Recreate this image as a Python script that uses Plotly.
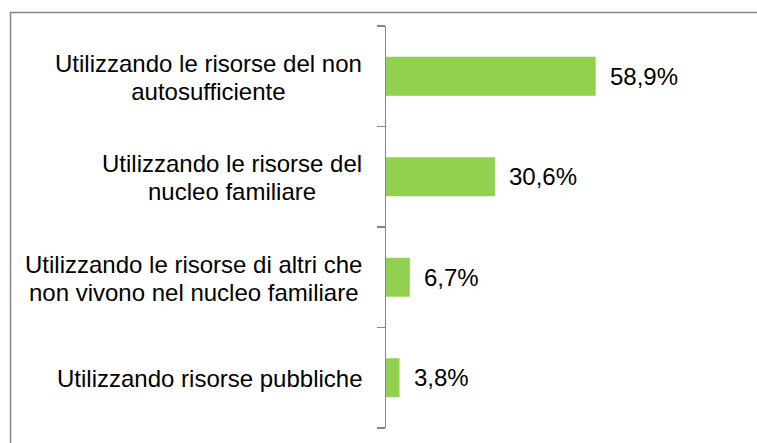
import plotly.graph_objects as go

categories = [
    ["Utilizzando le risorse del non", "autosufficiente"],
    ["Utilizzando le risorse del", "nucleo familiare"],
    ["Utilizzando le risorse di altri che", "non vivono nel nucleo familiare"],
    ["Utilizzando risorse pubbliche"],
]
values = [58.9, 30.6, 6.7, 3.8]
value_labels = [f"{v:.1f}".replace(".", ",") + "%" for v in values]

W, H = 757, 443
L, R, T, B = 386, 15, 26, 15
PW, PH = W - L - R, H - T - B

FONT = "Liberation Sans, Arial, sans-serif"
GRAY = "#868686"
GREEN = "#92D050"
FS = 24
LINE_FS = 21.8  # sets line pitch (1.3 x) to match the reference

fig = go.Figure(
    go.Bar(
        x=values,
        y=list(range(len(categories))),
        orientation="h",
        marker=dict(color=GREEN, line=dict(width=0)),
        hoverinfo="skip",
    )
)

annotations = []
for i, (lines, lab, v) in enumerate(zip(categories, value_labels, values)):
    txt = "<br>".join(f'<span style="font-size:{FS}px">{ln}</span>' for ln in lines)
    annotations.append(dict(
        x=0, xref="paper", xshift=-22, y=i, yref="y", yshift=-1,
        text=txt, showarrow=False, xanchor="right", yanchor="middle",
        align="center", font=dict(family=FONT, size=LINE_FS, color="#000000"),
    ))
    annotations.append(dict(
        x=v, xref="x", y=i, yref="y", xshift=12,
        text=lab, showarrow=False, xanchor="left", yanchor="middle",
        font=dict(family=FONT, size=FS, color="#000000"),
    ))

def px_x(p):
    return (p - L) / PW

def px_y(p):
    return (H - B - p) / PH

fig.add_shape(
    type="rect", xref="paper", yref="paper",
    x0=px_x(10.5), x1=px_x(W + 20), y0=px_y(H + 20), y1=px_y(12.5),
    line=dict(color=GRAY, width=1.5), fillcolor="rgba(0,0,0,0)", layer="below",
)

fig.update_layout(
    width=W, height=H,
    margin=dict(l=L, r=R, t=T, b=B, pad=0),
    paper_bgcolor="white", plot_bgcolor="white",
    showlegend=False,
    bargap=0.612,
    annotations=annotations,
    xaxis=dict(range=[0, 100], visible=False, fixedrange=True),
    yaxis=dict(
        range=[3.5, -0.5], type="linear",
        tickmode="array", tickvals=[-0.5, 0.5, 1.5, 2.5, 3.5],
        showticklabels=False, ticks="outside", ticklen=8,
        tickcolor=GRAY, tickwidth=1.5,
        showline=True, linecolor=GRAY, linewidth=1.5,
        showgrid=False, zeroline=False, fixedrange=True,
    ),
)

fig.write_html(
    "out.html",
    config={"displayModeBar": False, "staticPlot": True},
    post_script="document.body.style.margin='0';document.body.style.overflow='hidden';",
)
